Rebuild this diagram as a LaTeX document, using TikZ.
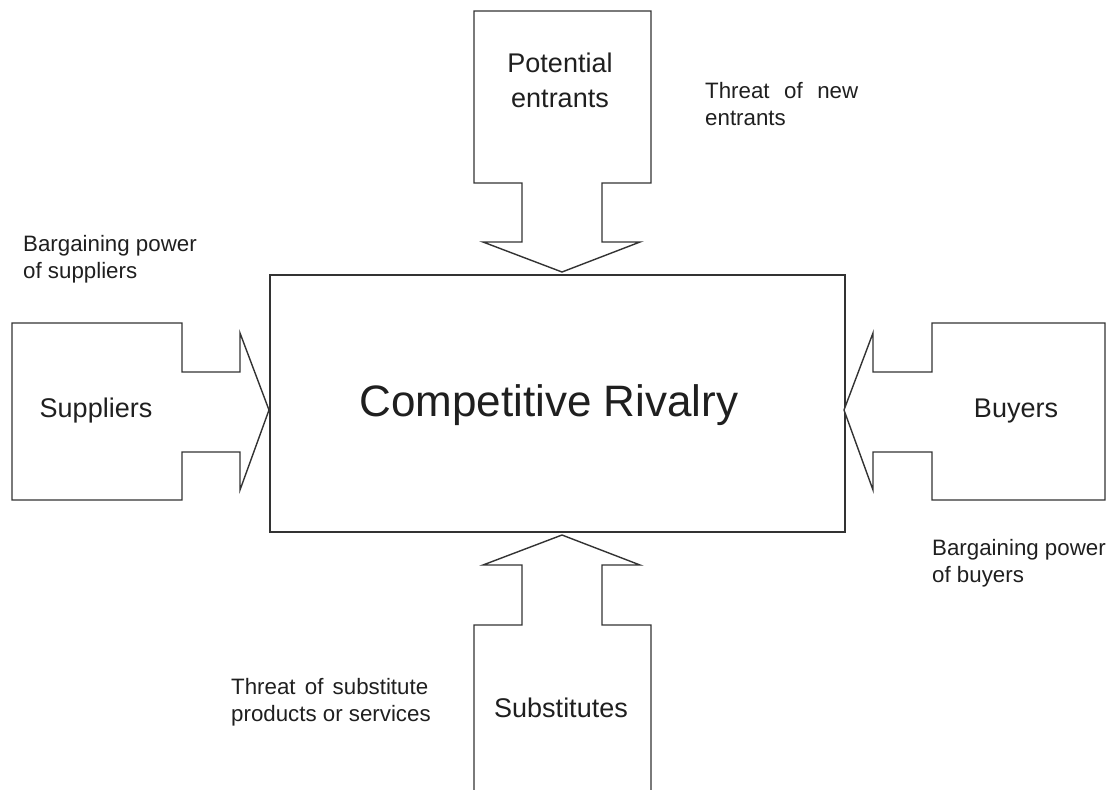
\documentclass[tikz,border=0pt]{standalone}
\usepackage{fontspec}
\setmainfont{Liberation Sans}
\begin{document}
\begin{tikzpicture}[x=1pt,y=-1pt,
  outline/.style={draw=black!80, line width=1.4pt, line join=miter, fill=white},
  forcelabel/.style={font=\fontsize{27}{35}\selectfont, text=black!88, inner sep=0pt, align=center},
  note/.style={font=\fontsize{22.3}{27.5}\selectfont, text=black!88, inner sep=0pt, align=left, anchor=west},
  rivalrytext/.style={font=\fontsize{44}{50}\selectfont, text=black!88, inner sep=0pt}]
  \useasboundingbox (0,0) rectangle (1112,790);

  % central rectangle
  \draw[outline] (270,275) rectangle (845,532);
  \node[rivalrytext] (rivalry) at (549,405) {Competitive Rivalry};

  % potential entrants: box with a downward arrow
  \draw[outline] (474,11) -- (651,11) -- (651,183) -- (602,183) -- (602,242)
    -- (640,242) -- (562,272) -- (483,242) -- (522,242) -- (522,183)
    -- (474,183) -- cycle;
  \node[forcelabel] (entrants) at (560,80) {Potential\\entrants};

  % suppliers: box with an arrow to the right
  \draw[outline] (12,323) -- (182,323) -- (182,372) -- (240,372) -- (240,333)
    -- (269,410) -- (240,490) -- (240,452) -- (182,452) -- (182,500)
    -- (12,500) -- cycle;
  \node[forcelabel] (suppliers) at (96,411) {Suppliers};

  % buyers: box with an arrow to the left
  \draw[outline] (1105,323) -- (932,323) -- (932,372) -- (873,372) -- (873,333)
    -- (844,410) -- (873,490) -- (873,452) -- (932,452) -- (932,500)
    -- (1105,500) -- cycle;
  \node[forcelabel] (buyers) at (1016,411) {Buyers};

  % substitutes: box with an upward arrow, running off the bottom edge
  \draw[outline] (474,790) -- (474,625) -- (522,625) -- (522,565) -- (483,565)
    -- (562,535) -- (640,565) -- (602,565) -- (602,625) -- (651,625)
    -- (651,790);
  \node[forcelabel] (substitutes) at (561,708) {Substitutes};

  % force descriptions
  \node[note] (newthreat) at (705,104)
    {\makebox[153pt][s]{Threat of new}\\entrants};
  \node[note] (supplierpower) at (23,259) {Bargaining power\\of suppliers};
  \node[note] (buyerpower) at (932,563) {Bargaining power\\of buyers};
  \node[note] (subthreat) at (231,702)
    {\makebox[197pt][s]{Threat of substitute}\\products or services};
\end{tikzpicture}
\end{document}
